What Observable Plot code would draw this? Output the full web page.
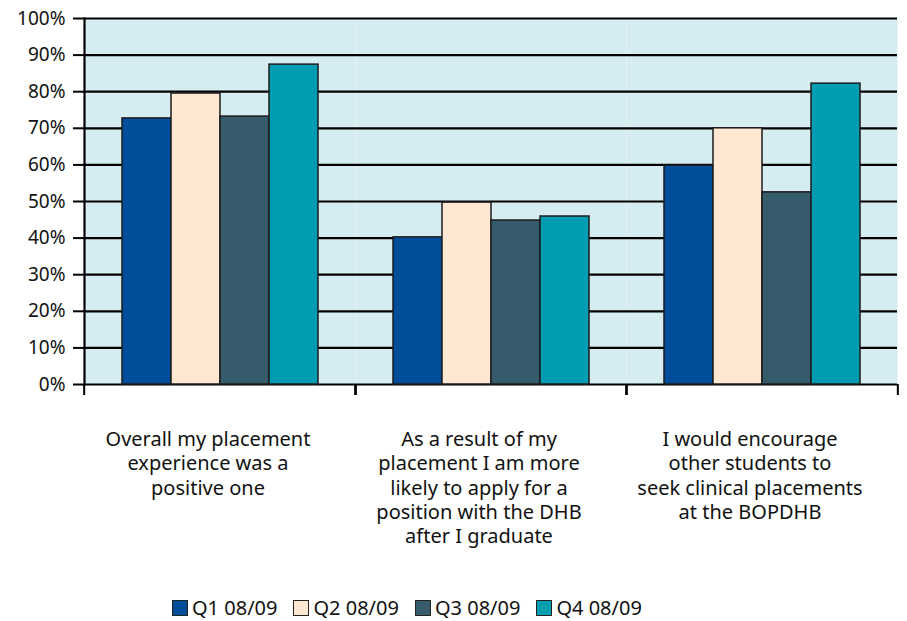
<!DOCTYPE html>
<html>
<head>
<meta charset="utf-8">
<script src="https://cdn.jsdelivr.net/npm/d3@7"></script>
<script src="https://cdn.jsdelivr.net/npm/@observablehq/plot@0.6"></script>
<style>
  html, body { margin: 0; padding: 0; background: #fff; }
  body { position: relative; width: 907px; height: 621px; overflow: hidden; font-family: "Noto Sans", "Open Sans", sans-serif; }
  #legend { position: absolute; left: 172px; top: 598px; display: flex; font-size: 20px; line-height: 20px; color: #111; }
  .item { display: flex; align-items: center; margin-right: 16px; }
  .sw { width: 14px; height: 14px; border: 1.5px solid #222; margin-right: 4px; }
</style>
</head>
<body>
<div id="chart"></div>
<div id="legend"></div>
<script>
const questions = [
  "Overall my placement\nexperience was a\npositive one",
  "As a result of my\nplacement I am more\nlikely to apply for a\nposition with the DHB\nafter I graduate",
  "I would encourage\nother students to\nseek clinical placements\nat the BOPDHB"
];
const quarters = ["Q1 08/09", "Q2 08/09", "Q3 08/09", "Q4 08/09"];
const q1 = [72.7, 40.2, 59.8];
const q2 = [79.5, 49.7, 70.0];
const q3 = [73.2, 44.8, 52.5];
const q4 = [87.4, 45.9, 82.2];
const colors = ["#004E9B", "#FFE8D2", "#365B6B", "#009CB1"];
const yTicks = [0, 10, 20, 30, 40, 50, 60, 70, 80, 90, 100];

const series = [q1, q2, q3, q4];
const rows = [];
questions.forEach((q, i) => {
  quarters.forEach((k, j) => rows.push({question: q, quarter: k, value: series[j][i]}));
});

const W = 907, ML = 83, MR = 9;
const half = (W - ML - MR) / questions.length / 2;

const chart = Plot.plot({
  width: W,
  height: 592,
  marginLeft: ML,
  marginRight: MR,
  marginTop: 18,
  marginBottom: 208,
  style: {fontFamily: "'Noto Sans', 'Open Sans', sans-serif", fontSize: "19px", color: "#111", background: "transparent", overflow: "visible"},
  fx: {domain: questions, padding: 0, axis: null},
  x: {domain: quarters, paddingInner: 0, paddingOuter: 0.75, axis: null},
  y: {domain: [0, 100], axis: null},
  color: {domain: quarters, range: colors},
  marks: [
    Plot.frame({fill: "#D5ECF0", stroke: null}),
    Plot.ruleY(yTicks, {stroke: "#000", strokeWidth: 2.2}),
    Plot.barY(rows, {fx: "question", x: "quarter", y: "value", fill: "quarter", stroke: "#1c1c1c", strokeWidth: 1.5}),
    Plot.frame({anchor: "left", facetAnchor: "left", stroke: "#000", strokeWidth: 2.2}),
    Plot.axisY({ticks: yTicks, tickFormat: d => d + "%", label: null, tickSize: 11, tickPadding: 8, strokeWidth: 2, stroke: "#000", fontSize: 19, fill: "#111"}),
    Plot.axisFx({anchor: "bottom", label: null, tickFormat: () => "", tickSize: 11, dx: -half, stroke: "#000", strokeWidth: 2}),
    Plot.axisFx({anchor: "bottom", label: null, tickFormat: () => "", tickSize: 11, dx: half, stroke: "#000", strokeWidth: 2}),
    Plot.text(questions, {fx: d => d, text: d => d, frameAnchor: "bottom", lineAnchor: "top", dy: 44, dx: -12, fontSize: 20, lineHeight: 1.22, fill: "#111"})
  ]
});
document.getElementById("chart").appendChild(chart);

const legend = document.getElementById("legend");
quarters.forEach((k, j) => {
  const item = document.createElement("div");
  item.className = "item";
  const sw = document.createElement("div");
  sw.className = "sw";
  sw.style.background = colors[j];
  const t = document.createElement("span");
  t.textContent = k;
  item.appendChild(sw);
  item.appendChild(t);
  legend.appendChild(item);
});
</script>
</body>
</html>
